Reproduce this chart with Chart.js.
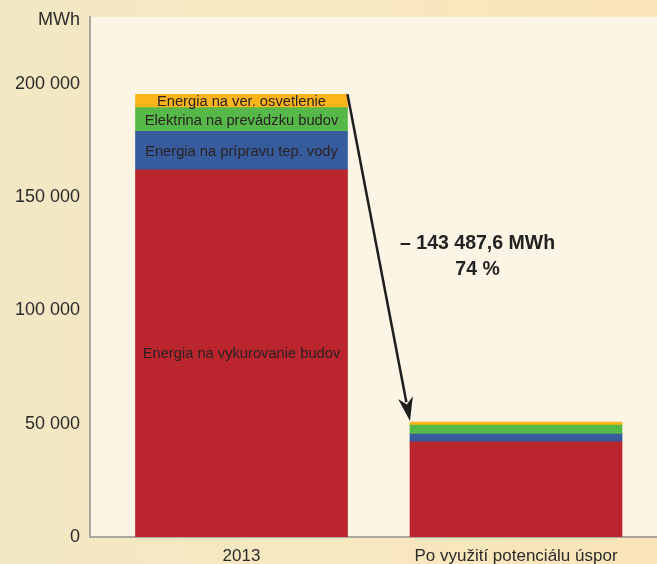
<!DOCTYPE html>
<html>
<head>
<meta charset="utf-8">
<script src="https://cdn.jsdelivr.net/npm/chart.js@4"></script>
<style>
  html, body { margin: 0; padding: 0; }
  body { width: 657px; height: 564px; background: linear-gradient(90deg, #f2e8c4 0%, #f7e8c0 50%, #fae5b8 100%); }
  #wrap { width: 657px; height: 564px; }
</style>
</head>
<body>
<div id="wrap"><canvas id="graf" width="657" height="564"></canvas></div>
<script>
// kategórie a hodnoty (MWh)
const kategorie = ['2013', 'Po využití potenciálu úspor'];
const vykurovanie = [162100, 42000];
const teplaVoda = [16900, 3400];
const prevadzka = [10500, 4000];
const osvetlenie = [5900, 1300];
const nazvy = ['Energia na vykurovanie budov', 'Energia na prípravu tep. vody', 'Elektrina na prevádzku budov', 'Energia na ver. osvetlenie'];
const farby = ['#bb252e', '#365c9e', '#55b848', '#fbb41a'];
const yTicky = [0, 50000, 100000, 150000, 200000];
const jednotka = 'MWh';
const jednotkaNa = 228000;
const rozdiel = ['– 143 487,6 MWh', '74 %'];
const rozdielX = 0.86;
const rozdielY = [129700, 117900];

const font = '"Liberation Sans", Arial, sans-serif';
const serie = [vykurovanie, teplaVoda, prevadzka, osvetlenie];

const pozadie = {
  id: 'pozadie',
  beforeDraw(chart) {
    const a = chart.chartArea, c = chart.ctx;
    c.save();
    c.fillStyle = '#fcf5e5';
    c.fillRect(a.left, a.top, a.right - a.left, a.bottom - a.top);
    c.restore();
  }
};

// popisky segmentov v prvom stĺpci + šípka + text rozdielu + jednotka
const popisky = {
  id: 'popisky',
  afterDatasetsDraw(chart) {
    const c = chart.ctx;
    const sx = chart.scales.x, sy = chart.scales.y;
    c.save();
    c.textBaseline = 'middle';

    c.font = '18px ' + font;
    c.fillStyle = '#2b2b2b';
    c.textAlign = 'right';
    c.fillText(jednotka, sy.right - 10, sy.getPixelForValue(jednotkaNa));

    c.font = '14.7px ' + font;
    c.fillStyle = '#2a2222';
    c.textAlign = 'center';
    chart.data.datasets.forEach((ds, i) => {
      const bar = chart.getDatasetMeta(i).data[0];
      c.fillText(ds.label, bar.x, (bar.y + bar.base) / 2 + 1);
    });

    const vrch = chart.getDatasetMeta(chart.data.datasets.length - 1).data;
    const x1 = vrch[0].x + vrch[0].width / 2, y1 = vrch[0].y;
    const x2 = vrch[1].x - vrch[1].width / 2, y2 = vrch[1].y - 1;
    const uhol = Math.atan2(y2 - y1, x2 - x1);
    const dl = 24, sir = 7.5;
    c.strokeStyle = '#1e1e1e';
    c.fillStyle = '#1e1e1e';
    c.lineWidth = 2.5;
    c.beginPath();
    c.moveTo(x1, y1);
    c.lineTo(x2 - Math.cos(uhol) * dl * 0.8, y2 - Math.sin(uhol) * dl * 0.8);
    c.stroke();
    c.beginPath();
    c.moveTo(x2, y2);
    c.lineTo(x2 - Math.cos(uhol) * dl - Math.sin(uhol) * sir, y2 - Math.sin(uhol) * dl + Math.cos(uhol) * sir);
    c.lineTo(x2 - Math.cos(uhol) * dl * 0.7, y2 - Math.sin(uhol) * dl * 0.7);
    c.lineTo(x2 - Math.cos(uhol) * dl + Math.sin(uhol) * sir, y2 - Math.sin(uhol) * dl - Math.cos(uhol) * sir);
    c.closePath();
    c.fill();

    c.font = 'bold 19.5px ' + font;
    c.fillStyle = '#222';
    rozdiel.forEach((t, i) => c.fillText(t, sx.getPixelForValue(rozdielX), sy.getPixelForValue(rozdielY[i])));
    c.restore();
  }
};

new Chart(document.getElementById('graf'), {
  type: 'bar',
  data: {
    datasets: serie.map((s, i) => ({
      label: nazvy[i],
      data: s.map((v, j) => ({ x: j, y: v })),
      backgroundColor: farby[i],
      borderWidth: 0,
      barThickness: 212
    }))
  },
  options: {
    responsive: false,
    animation: false,
    devicePixelRatio: 1,
    layout: { padding: { top: 17, left: 0, right: 0, bottom: 0 } },
    plugins: { legend: { display: false }, tooltip: { enabled: false } },
    scales: {
      x: {
        type: 'linear',
        stacked: true,
        offset: false,
        bounds: 'data',
        min: -0.5519,
        max: 1.5137,
        afterBuildTicks: a => { a.ticks = kategorie.map((k, i) => ({ value: i })); },
        afterFit: a => { a.height = 27; a.paddingLeft = 0; a.paddingRight = 0; },
        grid: { display: false, drawTicks: false, offset: false },
        border: { display: true, color: '#aba79f', width: 2 },
        ticks: {
          padding: 9,
          maxRotation: 0,
          autoSkip: false,
          color: '#2b2b2b',
          font: { family: font, size: 17 },
          callback: v => kategorie[v]
        }
      },
      y: {
        stacked: true,
        min: 0,
        max: 229500,
        afterBuildTicks: a => { a.ticks = yTicky.map(v => ({ value: v })); },
        afterFit: a => { a.width = 90; a.paddingTop = 0; a.paddingBottom = 0; },
        grid: { display: false, drawTicks: false },
        border: { display: true, color: '#aba79f', width: 2 },
        ticks: {
          padding: 10,
          color: '#2b2b2b',
          font: { family: font, size: 18 },
          callback: v => String(v).replace(/\B(?=(\d{3})+(?!\d))/g, ' ')
        }
      }
    }
  },
  plugins: [pozadie, popisky]
});
</script>
</body>
</html>
